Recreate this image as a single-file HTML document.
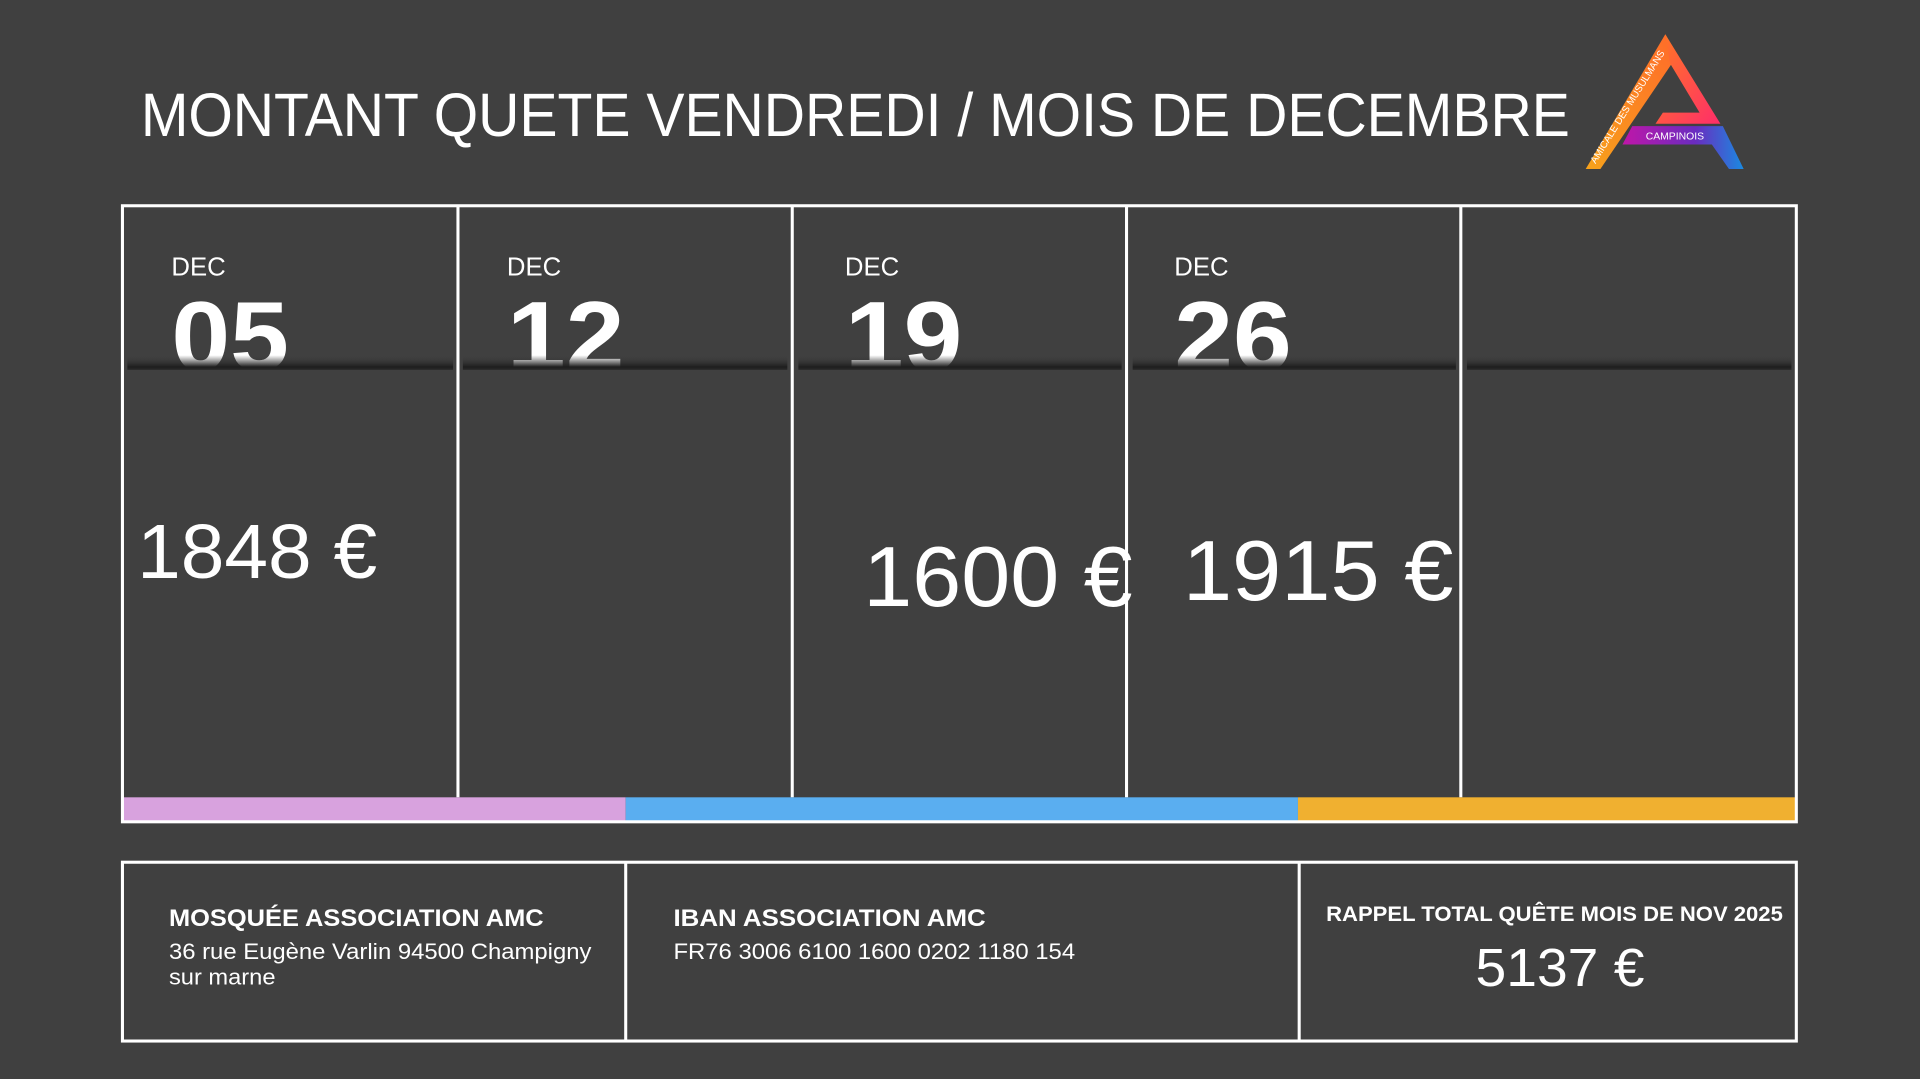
<!DOCTYPE html>
<html><head><meta charset="utf-8"><style>
html,body{margin:0;padding:0;background:#404040;width:1920px;height:1079px;overflow:hidden}
svg{display:block}
text{font-family:"Liberation Sans",sans-serif;fill:#fff}
</style></head><body>
<svg width="1920" height="1079" viewBox="0 0 1568 881" preserveAspectRatio="none">
<defs>
<linearGradient id="lg1" x1="0" y1="1" x2="1" y2="0"><stop offset="0" stop-color="#f7a21b"/><stop offset="1" stop-color="#ff6a2a"/></linearGradient>
<linearGradient id="lg2" x1="0" y1="0" x2="1" y2="1"><stop offset="0" stop-color="#ff7a20"/><stop offset="1" stop-color="#ff2d6a"/></linearGradient>
<linearGradient id="lg3" x1="0" y1="0" x2="1" y2="0"><stop offset="0" stop-color="#c016a8"/><stop offset="0.6" stop-color="#6a2cc0"/><stop offset="1" stop-color="#1a8ae0"/></linearGradient>
<linearGradient id="sh" x1="0" y1="0" x2="0" y2="1"><stop offset="0" stop-color="#404040" stop-opacity="0"/><stop offset="0.8" stop-color="#1e1e1e"/><stop offset="1" stop-color="#2a2a2a"/></linearGradient>
<linearGradient id="fade" x1="0" y1="0" x2="0" y2="1"><stop offset="0" stop-color="#fff"/><stop offset="0.75" stop-color="#fff"/><stop offset="1" stop-color="#bbb"/></linearGradient>
<clipPath id="cp"><rect x="0" y="0" width="1568" height="300"/></clipPath>
</defs>
<rect width="1568" height="881" fill="#404040"/>
<text x="115" y="111" font-size="50" textLength="1167" lengthAdjust="spacingAndGlyphs" style="font-weight:300">MONTANT QUETE VENDREDI / MOIS DE DECEMBRE</text>
<!-- logo -->
<polygon points="1360,28 1370,45 1307,138 1295,138" fill="url(#lg1)"/>
<polygon points="1360,28 1405,101 1352,101 1358,92 1388,92 1364,52" fill="url(#lg2)"/>
<polygon points="1333,103 1407,103 1424,138 1412,138 1398,118 1325,118" fill="url(#lg3)"/>
<text x="1344" y="114" font-size="8.5">CAMPINOIS</text>
<text x="0" y="0" font-size="8" transform="translate(1303,134) rotate(-58)">AMICALE DES MUSULMANS</text>
<!-- main box -->
<g clip-path="url(#cp)">
<text x="140" y="302" font-size="80" font-weight="bold" textLength="96" lengthAdjust="spacingAndGlyphs" style="fill:url(#fade)">05</text>
<text x="414" y="302" font-size="80" font-weight="bold" textLength="96" lengthAdjust="spacingAndGlyphs" style="fill:url(#fade)">12</text>
<text x="690" y="302" font-size="80" font-weight="bold" textLength="96" lengthAdjust="spacingAndGlyphs" style="fill:url(#fade)">19</text>
<text x="959" y="302" font-size="80" font-weight="bold" textLength="96" lengthAdjust="spacingAndGlyphs" style="fill:url(#fade)">26</text>
</g>
<g fill="url(#sh)">
<rect x="104" y="290" width="266" height="12"/><rect x="378" y="290" width="265" height="12"/><rect x="652" y="290" width="264" height="12"/><rect x="925" y="290" width="264" height="12"/><rect x="1198" y="290" width="265" height="12"/>
</g>
<text x="140" y="225" font-size="21">DEC</text>
<text x="414" y="225" font-size="21">DEC</text>
<text x="690" y="225" font-size="21">DEC</text>
<text x="959" y="225" font-size="21">DEC</text>
<rect x="100" y="651" width="411" height="20" fill="#d8a2de"/>
<rect x="511" y="651" width="549" height="20" fill="#5aaef0"/>
<rect x="1060" y="651" width="407" height="20" fill="#f0b030"/>
<rect x="100" y="168" width="1367" height="503" fill="none" stroke="#fff" stroke-width="2.5"/>
<g stroke="#fff" stroke-width="2.5"><line x1="374" y1="168" x2="374" y2="651"/><line x1="647" y1="168" x2="647" y2="651"/><line x1="920" y1="168" x2="920" y2="651"/><line x1="1193" y1="168" x2="1193" y2="651"/></g>
<text x="112" y="472" font-size="63" textLength="196" lengthAdjust="spacingAndGlyphs">1848 €</text>
<text x="705" y="495" font-size="70" textLength="220" lengthAdjust="spacingAndGlyphs">1600 €</text>
<text x="966" y="490" font-size="70" textLength="221" lengthAdjust="spacingAndGlyphs">1915 €</text>
<!-- bottom box -->
<rect x="100" y="704" width="1367" height="146" fill="none" stroke="#fff" stroke-width="2.5"/>
<g stroke="#fff" stroke-width="2.5"><line x1="511" y1="704" x2="511" y2="850"/><line x1="1061" y1="704" x2="1061" y2="850"/></g>
<text x="138" y="756" font-size="20" font-weight="bold" textLength="306" lengthAdjust="spacingAndGlyphs">MOSQUÉE ASSOCIATION AMC</text>
<text x="138" y="783" font-size="18" textLength="345" lengthAdjust="spacingAndGlyphs">36 rue Eugène Varlin 94500 Champigny</text>
<text x="138" y="804" font-size="18" textLength="87" lengthAdjust="spacingAndGlyphs">sur marne</text>
<text x="550" y="756" font-size="20" font-weight="bold" textLength="255" lengthAdjust="spacingAndGlyphs">IBAN ASSOCIATION AMC</text>
<text x="550" y="783" font-size="18" textLength="328" lengthAdjust="spacingAndGlyphs">FR76 3006 6100 1600 0202 1180 154</text>
<text x="1083" y="752" font-size="17" font-weight="bold" textLength="373" lengthAdjust="spacingAndGlyphs">RAPPEL TOTAL QUÊTE MOIS DE NOV 2025</text>
<text x="1205" y="805" font-size="44" textLength="138" lengthAdjust="spacingAndGlyphs">5137 €</text>
</svg>
</body></html>
